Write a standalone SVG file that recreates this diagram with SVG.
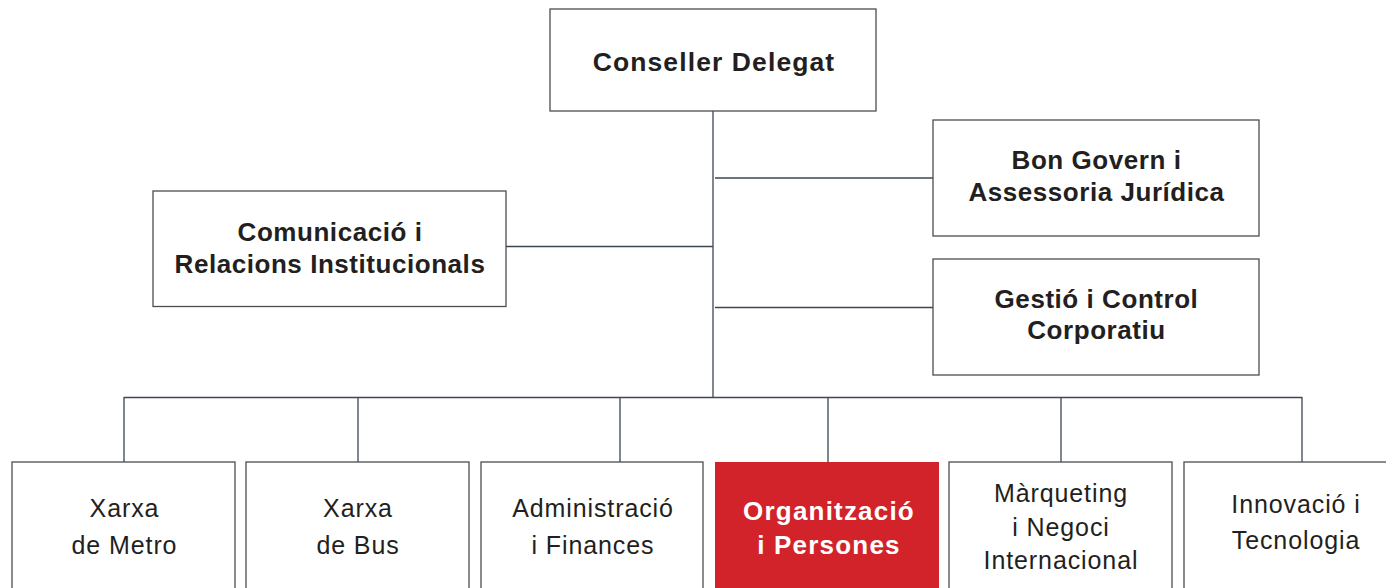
<svg xmlns="http://www.w3.org/2000/svg" width="1386" height="588" viewBox="0 0 1386 588">
<style>
  .box { fill: #ffffff; stroke: #4a4d52; stroke-width: 1.3; }
  .red { fill: #d2232a; stroke: none; }
  .conn { stroke: #3d4651; stroke-width: 1.3; fill: none; }
  .tb { font-family: "Liberation Sans", Arial, sans-serif; font-weight: bold; font-size: 26px; fill: #231f20; text-anchor: middle; letter-spacing: 0.55px; }
  .top { font-size: 26.5px; letter-spacing: 1.1px; }
  .tr { font-family: "Liberation Sans", Arial, sans-serif; font-weight: normal; font-size: 25px; fill: #231f20; text-anchor: middle; letter-spacing: 0.9px; }
  .tw { fill: #ffffff; letter-spacing: 1.2px; }
</style>
<rect width="1386" height="588" fill="#ffffff"/>
<g id="connectors">
  <line class="conn" x1="713" y1="111" x2="713" y2="397"/>
  <line class="conn" x1="715" y1="178" x2="933" y2="178"/>
  <line class="conn" x1="506" y1="246.5" x2="713" y2="246.5"/>
  <line class="conn" x1="715" y1="307.5" x2="933" y2="307.5"/>
  <line class="conn" x1="124" y1="397.5" x2="1302" y2="397.5"/>
  <line class="conn" x1="124" y1="397" x2="124" y2="462"/>
  <line class="conn" x1="358" y1="397" x2="358" y2="462"/>
  <line class="conn" x1="620" y1="397" x2="620" y2="462"/>
  <line class="conn" x1="828" y1="397" x2="828" y2="462"/>
  <line class="conn" x1="1061" y1="397" x2="1061" y2="462"/>
  <line class="conn" x1="1302" y1="397" x2="1302" y2="462"/>
</g>
<g id="conseller-delegat">
  <rect class="box" x="550" y="9" width="326" height="102"/>
  <text class="tb top" x="714" y="70.5">Conseller Delegat</text>
</g>
<g id="bon-govern">
  <rect class="box" x="933" y="120" width="326" height="116"/>
  <text class="tb" x="1096.5" y="169">Bon Govern i</text>
  <text class="tb" x="1096.5" y="200.5">Assessoria Jurídica</text>
</g>
<g id="comunicacio">
  <rect class="box" x="153" y="191" width="353" height="115.5"/>
  <text class="tb" x="330" y="241">Comunicació i</text>
  <text class="tb" x="330" y="273">Relacions Institucionals</text>
</g>
<g id="gestio">
  <rect class="box" x="933" y="259" width="326" height="116"/>
  <text class="tb" x="1096.5" y="307.5">Gestió i Control</text>
  <text class="tb" x="1096.5" y="339">Corporatiu</text>
</g>
<g id="xarxa-metro">
  <rect class="box" x="12" y="462" width="223" height="140"/>
  <text class="tr" x="124.5" y="517">Xarxa</text>
  <text class="tr" x="124.5" y="553.5">de Metro</text>
</g>
<g id="xarxa-bus">
  <rect class="box" x="246" y="462" width="223" height="140"/>
  <text class="tr" x="358" y="517">Xarxa</text>
  <text class="tr" x="358" y="553.5">de Bus</text>
</g>
<g id="administracio">
  <rect class="box" x="481" y="462" width="222" height="140"/>
  <text class="tr" x="593" y="517">Administració</text>
  <text class="tr" x="593" y="553.5">i Finances</text>
</g>
<g id="organitzacio">
  <rect class="red" x="715" y="462" width="224" height="140"/>
  <text class="tb tw" x="829" y="519.5">Organització</text>
  <text class="tb tw" x="829" y="553.5">i Persones</text>
</g>
<g id="marqueting">
  <rect class="box" x="949" y="462" width="223" height="140"/>
  <text class="tr" x="1061" y="502">Màrqueting</text>
  <text class="tr" x="1061" y="535.5">i Negoci</text>
  <text class="tr" x="1061" y="569">Internacional</text>
</g>
<g id="innovacio">
  <rect class="box" x="1184" y="462" width="223" height="140"/>
  <text class="tr" x="1296" y="513">Innovació i</text>
  <text class="tr" x="1296" y="548.5">Tecnologia</text>
</g>
</svg>
